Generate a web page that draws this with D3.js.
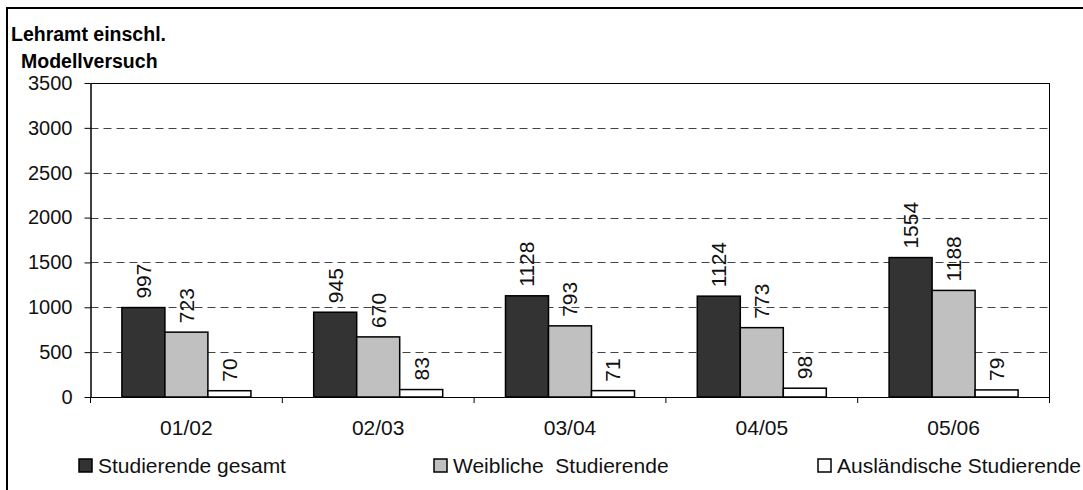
<!DOCTYPE html>
<html><head><meta charset="utf-8">
<script src="https://cdn.jsdelivr.net/npm/d3@7"></script>
<style>body{margin:0;background:#fff}svg{display:block;font-family:"Liberation Sans",Arial,sans-serif}</style>
</head><body><svg id="c" width="1083" height="490"></svg>
<script>
const categories = ["01/02","02/03","03/04","04/05","05/06"];
const seriesNames = ["Studierende gesamt","Weibliche  Studierende","Ausländische Studierende"];
const gesamt = [997,945,1128,1124,1554];
const weiblich = [723,670,793,773,1188];
const auslaendisch = [70,83,71,98,79];
const yTicks = [0,500,1000,1500,2000,2500,3000,3500];
const colors = ["#333333","#c0c0c0","#ffffff"];
const values = [gesamt, weiblich, auslaendisch];

const svg = d3.select("#c");
svg.append("rect").attr("width",1083).attr("height",490).attr("fill","#fff");
svg.append("rect").attr("x",7).attr("y",8).attr("width",1200).attr("height",600)
  .attr("fill","none").attr("stroke","#000").attr("stroke-width",2);

const L=90.5, R=1049.5, T=83, B=397;
const x = d3.scaleBand().domain(categories).range([L,R]).padding(0);
const xs = d3.scaleBand().domain(seriesNames).range([0,x.bandwidth()]).paddingInner(0).paddingOuter(0.73);
const y = d3.scaleLinear().domain([0,3500]).range([B,T]);

// gridlines
svg.append("g").selectAll("line").data(yTicks.filter(v=>v>0&&v<3500)).join("line")
  .attr("x1",L).attr("x2",R).attr("y1",d=>Math.round(y(d))+0.5).attr("y2",d=>Math.round(y(d))+0.5)
  .attr("stroke","#444").attr("stroke-dasharray","8,5");
// plot frame top & right
svg.append("line").attr("x1",L).attr("x2",R).attr("y1",T+0.5).attr("y2",T+0.5).attr("stroke","#000");
svg.append("line").attr("x1",R).attr("x2",R).attr("y1",T).attr("y2",B).attr("stroke","#000");

// bars
const g = svg.append("g");
values.forEach((vals,si)=>{
  categories.forEach((c,ci)=>{
    const bx = x(c)+xs(seriesNames[si]);
    const v = vals[ci];
    g.append("rect").attr("x",bx).attr("y",y(v)).attr("width",xs.bandwidth()).attr("height",B-y(v))
      .attr("fill",colors[si]).attr("stroke","#000").attr("stroke-width",1.5);
    const cx = bx + xs.bandwidth()/2, ty = y(v)-9;
    g.append("text").attr("transform",`translate(${cx},${ty}) rotate(-90)`)
      .attr("dy","0.35em").attr("text-anchor","start").attr("font-size",21).attr("fill","#111").text(v);
  });
});

// y axis
const ya = svg.append("g").attr("transform",`translate(${L},0)`)
  .call(d3.axisLeft(y).tickValues(yTicks).tickFormat(d3.format("d")).tickSize(6).tickSizeOuter(0).tickPadding(12));
ya.select(".domain").attr("stroke","#000").attr("stroke-width",1.5);
ya.selectAll(".tick line").attr("stroke","#000");
ya.selectAll(".tick text").attr("font-size",20).attr("font-family","Liberation Sans, Arial, sans-serif").attr("fill","#111");

// x axis
const xa = svg.append("g").attr("transform",`translate(0,${B})`)
  .call(d3.axisBottom(x).tickSize(0));
xa.select(".domain").attr("stroke","#000");
xa.selectAll(".tick text").attr("font-size",21).attr("y",38).attr("dy","0")
  .attr("font-family","Liberation Sans, Arial, sans-serif").attr("fill","#111");
svg.append("g").selectAll("line").data(categories.map(c=>x(c)).concat([R])).join("line")
  .attr("x1",d=>d).attr("x2",d=>d).attr("y1",B).attr("y2",B+6).attr("stroke","#000");

// title
svg.append("text").attr("x",11).attr("y",41).attr("font-weight","bold").attr("font-size",19.5).text("Lehramt einschl.");
svg.append("text").attr("x",21).attr("y",68).attr("font-weight","bold").attr("font-size",19.5).text("Modellversuch");

// legend
const legX = [79,434,818];
seriesNames.forEach((s,i)=>{
  svg.append("rect").attr("x",legX[i]).attr("y",459).attr("width",13).attr("height",13)
    .attr("fill",colors[i]).attr("stroke","#000").attr("stroke-width",1.5);
  svg.append("text").attr("x",legX[i]+19).attr("y",473).attr("font-size",21)
    .style("white-space","pre").attr("fill","#111").text(s);
});
</script></body></html>
